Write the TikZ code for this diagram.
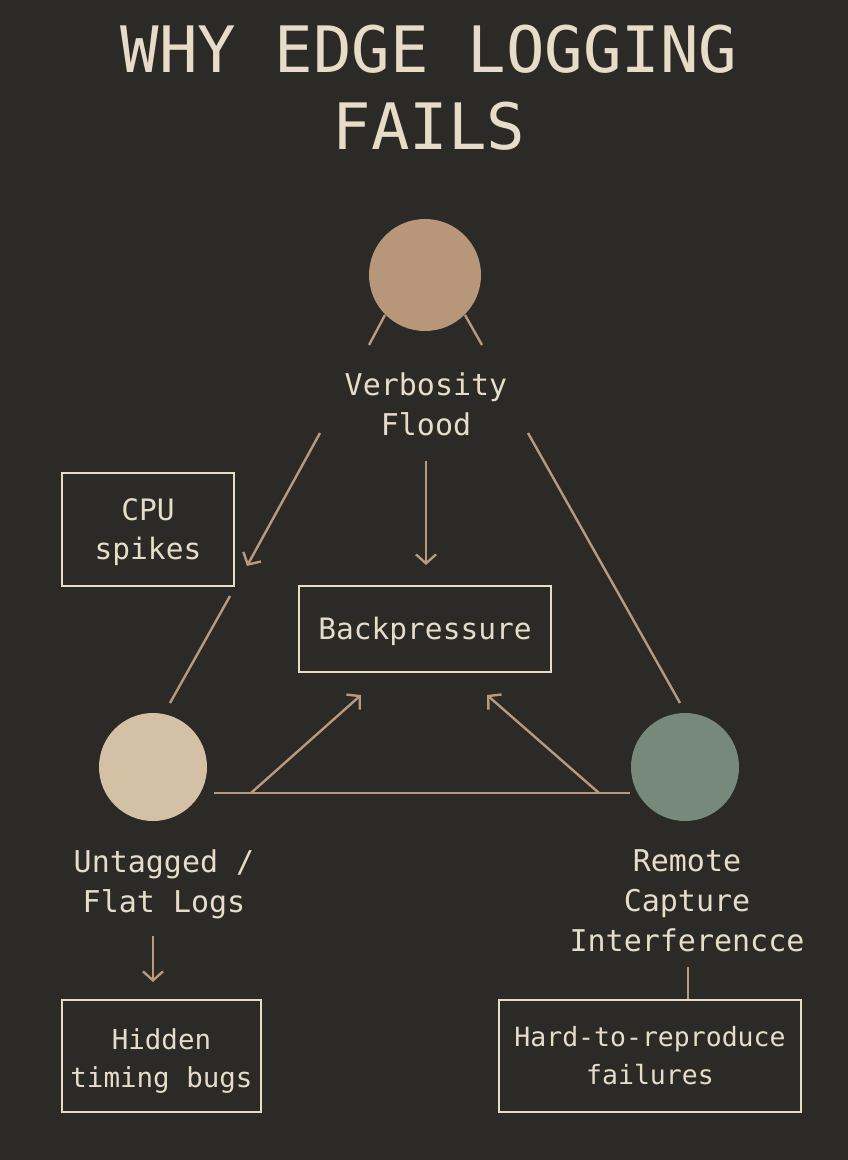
\documentclass[tikz,border=0pt]{standalone}
\usepackage{fontspec}
\setmainfont{DejaVu Sans Mono}
\usetikzlibrary{arrows.meta}

\definecolor{bgdark}{HTML}{2B2A27}
\definecolor{tanline}{HTML}{B89A7E}
\definecolor{cream}{HTML}{E6DCC8}
\definecolor{floodfill}{HTML}{B8967A}
\definecolor{flatfill}{HTML}{D4C0A4}
\definecolor{remotefill}{HTML}{76897A}

\tikzset{
  label/.style={text=cream, align=center, font=\fontsize{30}{40}\selectfont},
  boxnode/.style={draw=cream, line width=2.8pt, text=cream, align=center},
  conn/.style={draw=tanline, line width=2.4pt},
  arr/.style={conn, -{Straight Barb[length=9pt, width=20pt, line width=2.4pt]}},
  dot/.style={circle, inner sep=0pt, minimum size=#1}
}
\newcommand{\lowered}[2]{\raisebox{-#1}[\height][\depth]{#2}}

\begin{document}
\begin{tikzpicture}[x=1pt, y=-1pt]
  \fill[bgdark] (0,0) rectangle (848,1160);
  \useasboundingbox (0,0) rectangle (848,1160);

  % title
  \node[text=cream, align=center, font=\fontsize{64}{77}\selectfont] (title) at (429,88)
    {WHY EDGE LOGGING\\FAILS};

  % circles
  \node[dot=112pt, fill=floodfill] (flood) at (425,275) {};
  \node[dot=108pt, fill=flatfill] (flat) at (153,767) {};
  \node[dot=108pt, fill=remotefill] (remote) at (685,767) {};

  % labels
  \node[label] (floodlbl) at (426,404) {Verbosity\\Flood};
  \node[label] (flatlbl) at (164,884) {Untagged /\\Flat Logs};
  \node[label] (remotelbl) at (687,901) {Remote\\Capture\\Interferencce};

  % boxes
  \node[boxnode, minimum width=172pt, minimum height=113pt, font=\fontsize{29.5}{39}\selectfont] (cpu) at (148,529.5) {\lowered{3pt}{\parbox{150pt}{\centering CPU\\spikes}}};
  \node[boxnode, minimum width=252pt, minimum height=86pt, font=\fontsize{29.5}{39}\selectfont] (back) at (425,629) {\lowered{2pt}{Backpressure}};
  \node[boxnode, minimum width=199pt, minimum height=112pt, font=\fontsize{27.5}{38}\selectfont] (hidden) at (161.5,1056) {\lowered{5pt}{\parbox{190pt}{\centering Hidden\\timing bugs}}};
  \node[boxnode, minimum width=302pt, minimum height=112pt, font=\fontsize{26.5}{38}\selectfont] (hard) at (650,1056) {Hard-to-reproduce\\failures};

  % connector points
  \coordinate (legLa) at (385,315);
  \coordinate (legLb) at (369,345);
  \coordinate (legRa) at (465,315);
  \coordinate (legRb) at (482,345);
  \coordinate (leftTop) at (320,433);
  \coordinate (leftTip) at (247,566);
  \coordinate (midTop) at (426,461);
  \coordinate (midTip) at (426,565);
  \coordinate (rightTop) at (528,433);
  \coordinate (rightBot) at (680,703);
  \coordinate (cpuBot) at (230,596);
  \coordinate (flatTop) at (170,703);
  \coordinate (baseL) at (214,793);
  \coordinate (baseR) at (630,793);
  \coordinate (riseL) at (251,793);
  \coordinate (tipL) at (361,695);
  \coordinate (riseR) at (599,793);
  \coordinate (tipR) at (487,695);
  \coordinate (flatDown) at (153,936);
  \coordinate (hiddenTip) at (153,982);
  \coordinate (remoteDown) at (688,967);

  % connectors
  \draw[conn] (legLa) -- (legLb);
  \draw[conn] (legRa) -- (legRb);
  \draw[arr] (leftTop) -- (leftTip);
  \draw[arr] (midTop) -- (midTip);
  \draw[conn] (rightTop) -- (rightBot);
  \draw[conn] (cpuBot) -- (flatTop);
  \draw[conn] (baseL) -- (baseR);
  \draw[arr] (riseL) -- (tipL);
  \draw[arr] (riseR) -- (tipR);
  \draw[arr] (flatDown) -- (hiddenTip);
  \draw[conn] (remoteDown) -- (hard.north -| remoteDown);
\end{tikzpicture}
\end{document}
